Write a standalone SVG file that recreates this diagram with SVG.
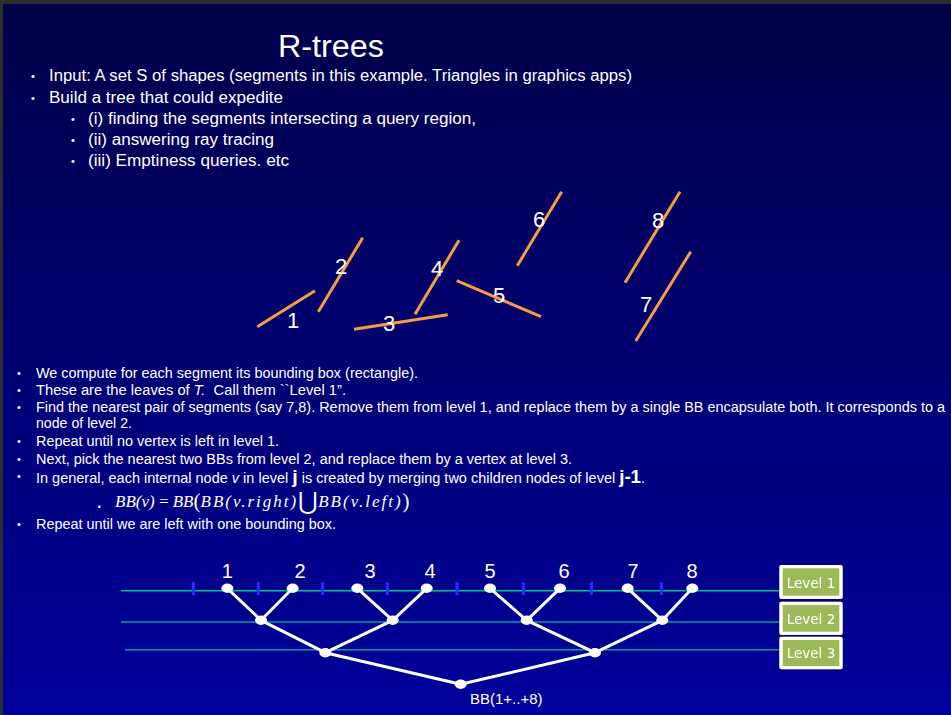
<svg xmlns="http://www.w3.org/2000/svg" width="951" height="715" viewBox="0 0 951 715">
  <defs>
    <linearGradient id="bg" x1="0" y1="0" x2="0" y2="1">
      <stop offset="0" stop-color="#000048"/>
      <stop offset="1" stop-color="#00009c"/>
    </linearGradient>
    <filter id="shadow" x="-20%" y="-20%" width="140%" height="140%">
      <feDropShadow dx="0" dy="0" stdDeviation="1.5" flood-color="#000000" flood-opacity="0.5"/>
    </filter>
  </defs>
  <style>
    .t { font-family: "Liberation Sans", Arial, sans-serif; fill: #ffffff; }
    .title { font-size: 31px; }
    .b1 { font-size: 16px; }
    .b2 { font-size: 14px; }
    .bul { font-size: 11px; }
    .math { font-family: "Liberation Serif", "DejaVu Serif", serif; font-style: italic; font-size: 17px; fill: #ffffff; }
    .seg { stroke: #f99b45; stroke-width: 3; stroke-linecap: butt; }
    .lbl { font-family: "Liberation Sans", Arial, sans-serif; font-size: 22px; fill: #ffffff; text-anchor: middle; }
    .num { font-family: "Liberation Sans", Arial, sans-serif; font-size: 20px; fill: #ffffff; text-anchor: middle; }
    .edge { stroke: #ffffff; stroke-width: 3; }
    .dot { fill: #ffffff; }
    .tick { stroke: #1a33ff; stroke-width: 3; }
    .lvl1 { stroke: #00c08c; stroke-width: 1.5; }
    .lvl { stroke: #00a0a0; stroke-width: 1.5; }
    .boxo { fill: #ffffff; }
    .boxi { fill: #9bbb59; }
    .boxt { font-family: "DejaVu Sans", Verdana, sans-serif; font-size: 13.5px; fill: #ffffff; text-anchor: middle; }
  </style>

  <!-- background and frame -->
  <rect x="0" y="0" width="951" height="715" fill="url(#bg)"/>
  <rect x="0" y="0" width="951" height="4" fill="#2e2e2e"/>
  <rect x="0" y="0" width="3" height="715" fill="#2e2e2e"/>

  <!-- heading and introduction -->
  <text class="t title" x="278" y="57" textLength="106" lengthAdjust="spacingAndGlyphs">R-trees</text>
  <g class="t b1">
    <text class="bul" x="31" y="80">•</text>
    <text x="49" y="81" textLength="583" lengthAdjust="spacingAndGlyphs">Input: A set S of shapes (segments in this example. Triangles in graphics apps)</text>
    <text class="bul" x="31" y="102">•</text>
    <text x="49" y="103" textLength="234" lengthAdjust="spacingAndGlyphs">Build a tree that could expedite</text>
    <text class="bul" x="71" y="123">•</text>
    <text x="88" y="124" textLength="388" lengthAdjust="spacingAndGlyphs">(i) finding the segments intersecting a query region,</text>
    <text class="bul" x="71" y="144">•</text>
    <text x="88" y="145" textLength="186" lengthAdjust="spacingAndGlyphs">(ii) answering ray tracing</text>
    <text class="bul" x="71" y="165">•</text>
    <text x="88" y="166" textLength="201" lengthAdjust="spacingAndGlyphs">(iii) Emptiness queries. etc</text>
  </g>

  <!-- input segments -->
  <g id="segments">
    <g id="seg1"><line class="seg" x1="257.3" y1="326.7" x2="315" y2="290.7"/><text class="lbl" x="293" y="328">1</text></g>
    <g id="seg2"><line class="seg" x1="318.3" y1="311.7" x2="362.7" y2="237.7"/><text class="lbl" x="341" y="274">2</text></g>
    <g id="seg3"><line class="seg" x1="354" y1="329.3" x2="447.7" y2="314.7"/><text class="lbl" x="389" y="331">3</text></g>
    <g id="seg4"><line class="seg" x1="415" y1="314.3" x2="459" y2="240.3"/><text class="lbl" x="437" y="276">4</text></g>
    <g id="seg5"><line class="seg" x1="456.7" y1="280.7" x2="541" y2="316.7"/><text class="lbl" x="499" y="303">5</text></g>
    <g id="seg6"><line class="seg" x1="517.3" y1="265.7" x2="561.7" y2="191.7"/><text class="lbl" x="539" y="227">6</text></g>
    <g id="seg7"><line class="seg" x1="635.7" y1="341" x2="690.7" y2="251.7"/><text class="lbl" x="646" y="312">7</text></g>
    <g id="seg8"><line class="seg" x1="625" y1="282.7" x2="680" y2="191.7"/><text class="lbl" x="658" y="228">8</text></g>
  </g>

  <!-- explanation -->
  <g class="t b2">
    <text class="bul" x="17" y="377">•</text>
    <text x="36" y="378" textLength="382" lengthAdjust="spacingAndGlyphs">We compute for each segment its bounding box (rectangle).</text>
    <text class="bul" x="17" y="394">•</text>
    <text x="36" y="395" textLength="310" lengthAdjust="spacingAndGlyphs">These are the leaves of <tspan font-style="italic">T.</tspan>&#160; Call them ``Level 1”.</text>
    <text class="bul" x="17" y="411">•</text>
    <text x="36" y="412" textLength="909" lengthAdjust="spacingAndGlyphs">Find the nearest pair of segments (say 7,8). Remove them from level 1, and replace them by a single BB encapsulate both. It corresponds to a</text>
    <text x="36" y="428" textLength="96" lengthAdjust="spacingAndGlyphs">node of level 2.</text>
    <text class="bul" x="17" y="445">•</text>
    <text x="36" y="446" textLength="243" lengthAdjust="spacingAndGlyphs">Repeat until no vertex is left in level 1.</text>
    <text class="bul" x="17" y="463">•</text>
    <text x="36" y="464" textLength="536" lengthAdjust="spacingAndGlyphs">Next, pick the nearest two BBs from level 2, and replace them by a vertex at level 3.</text>
    <text class="bul" x="17" y="480">•</text>
    <text x="36" y="483" textLength="609" lengthAdjust="spacingAndGlyphs">In general, each internal node <tspan font-style="italic">v</tspan> in level <tspan font-weight="bold" font-size="19px">j</tspan> is created by merging two children nodes of level <tspan font-weight="bold" font-size="18px">j-1</tspan>.</text>
    <text class="bul" x="17" y="528">•</text>
    <text x="36" y="529" textLength="300" lengthAdjust="spacingAndGlyphs">Repeat until we are left with one bounding box.</text>
  </g>

  <!-- merge formula -->
  <g id="formula">
    <text class="t" x="97" y="508" font-size="16px" font-weight="bold">.</text>
    <text class="math" x="115" y="507">BB(v) <tspan font-style="normal">=</tspan> BB<tspan font-style="normal" font-size="21px" dy="1">(</tspan><tspan dy="-1" letter-spacing="2">BB(v.right)</tspan><tspan font-style="normal" font-size="24px" dy="2">⋃</tspan><tspan dy="-2" letter-spacing="2">BB(v.left)</tspan><tspan font-style="normal" font-size="21px" dy="1">)</tspan></text>
  </g>

  <!-- level guides -->
  <g id="levels">
    <line class="lvl1" x1="121" y1="590.7" x2="780" y2="590.7"/>
    <line class="lvl" x1="121" y1="622" x2="780" y2="622"/>
    <line class="lvl" x1="125" y1="649.7" x2="780" y2="649.7"/>
    <g id="ticks">
      <line class="tick" x1="193.3" y1="582" x2="193.3" y2="595"/>
      <line class="tick" x1="258.3" y1="582" x2="258.3" y2="595"/>
      <line class="tick" x1="322.7" y1="582" x2="322.7" y2="595"/>
      <line class="tick" x1="387.3" y1="582" x2="387.3" y2="595"/>
      <line class="tick" x1="457" y1="582" x2="457" y2="595"/>
      <line class="tick" x1="523.3" y1="582" x2="523.3" y2="595"/>
      <line class="tick" x1="591.5" y1="582" x2="591.5" y2="595"/>
      <line class="tick" x1="661.3" y1="582" x2="661.3" y2="595"/>
    </g>
  </g>

  <!-- tree connectors -->
  <g id="connectors">
    <line class="edge" x1="227.3" y1="588.3" x2="261" y2="620.3"/>
    <line class="edge" x1="292.7" y1="588.3" x2="261" y2="620.3"/>
    <line class="edge" x1="357.3" y1="588.3" x2="392.7" y2="620.3"/>
    <line class="edge" x1="426.7" y1="588.3" x2="392.7" y2="620.3"/>
    <line class="edge" x1="490" y1="588.3" x2="526.7" y2="620.3"/>
    <line class="edge" x1="560" y1="588.3" x2="526.7" y2="620.3"/>
    <line class="edge" x1="627.7" y1="588.3" x2="662.3" y2="620.3"/>
    <line class="edge" x1="692.3" y1="588.3" x2="662.3" y2="620.3"/>
    <line class="edge" x1="261" y1="620.3" x2="325.3" y2="652.7"/>
    <line class="edge" x1="392.7" y1="620.3" x2="325.3" y2="652.7"/>
    <line class="edge" x1="526.7" y1="620.3" x2="595" y2="652.7"/>
    <line class="edge" x1="662.3" y1="620.3" x2="595" y2="652.7"/>
    <line class="edge" x1="325.3" y1="652.7" x2="460.7" y2="684.3"/>
    <line class="edge" x1="595" y1="652.7" x2="460.7" y2="684.3"/>
  </g>

  <!-- leaves -->
  <g id="leaf1"><ellipse class="dot" cx="227.3" cy="588.3" rx="6" ry="4.7"/><text class="num" x="227.3" y="578">1</text></g>
  <g id="leaf2"><ellipse class="dot" cx="292.7" cy="588.3" rx="6" ry="4.7"/><text class="num" x="300" y="578">2</text></g>
  <g id="leaf3"><ellipse class="dot" cx="357.3" cy="588.3" rx="6" ry="4.7"/><text class="num" x="370" y="578">3</text></g>
  <g id="leaf4"><ellipse class="dot" cx="426.7" cy="588.3" rx="6" ry="4.7"/><text class="num" x="430" y="578">4</text></g>
  <g id="leaf5"><ellipse class="dot" cx="490" cy="588.3" rx="6" ry="4.7"/><text class="num" x="490" y="578">5</text></g>
  <g id="leaf6"><ellipse class="dot" cx="560" cy="588.3" rx="6" ry="4.7"/><text class="num" x="564" y="578">6</text></g>
  <g id="leaf7"><ellipse class="dot" cx="627.7" cy="588.3" rx="6" ry="4.7"/><text class="num" x="633" y="578">7</text></g>
  <g id="leaf8"><ellipse class="dot" cx="692.3" cy="588.3" rx="6" ry="4.7"/><text class="num" x="692" y="578">8</text></g>

  <!-- internal nodes -->
  <g id="n12"><ellipse class="dot" cx="261" cy="620.3" rx="6" ry="4.7"/></g>
  <g id="n34"><ellipse class="dot" cx="392.7" cy="620.3" rx="6" ry="4.7"/></g>
  <g id="n56"><ellipse class="dot" cx="526.7" cy="620.3" rx="6" ry="4.7"/></g>
  <g id="n78"><ellipse class="dot" cx="662.3" cy="620.3" rx="6" ry="4.7"/></g>
  <g id="n1234"><ellipse class="dot" cx="325.3" cy="652.7" rx="6" ry="4.7"/></g>
  <g id="n5678"><ellipse class="dot" cx="595" cy="652.7" rx="6" ry="4.7"/></g>
  <g id="root"><ellipse class="dot" cx="460.7" cy="684.3" rx="6" ry="4.7"/><text class="t" x="470" y="703.5" font-size="15px">BB(1+..+8)</text></g>

  <!-- level legend -->
  <g id="level1" filter="url(#shadow)"><rect class="boxo" x="779.3" y="565" width="63.4" height="34" rx="2"/><rect class="boxi" x="782.7" y="568.3" width="56.6" height="27.4"/><text class="boxt" x="811" y="588">Level 1</text></g>
  <g id="level2" filter="url(#shadow)"><rect class="boxo" x="779.3" y="601.7" width="63.4" height="33.3" rx="2"/><rect class="boxi" x="782.7" y="605" width="56.6" height="26.7"/><text class="boxt" x="811" y="624">Level 2</text></g>
  <g id="level3" filter="url(#shadow)"><rect class="boxo" x="779.3" y="636.7" width="63.4" height="32.6" rx="2"/><rect class="boxi" x="782.7" y="640" width="56.6" height="26"/><text class="boxt" x="811" y="657.5">Level 3</text></g>
</svg>
